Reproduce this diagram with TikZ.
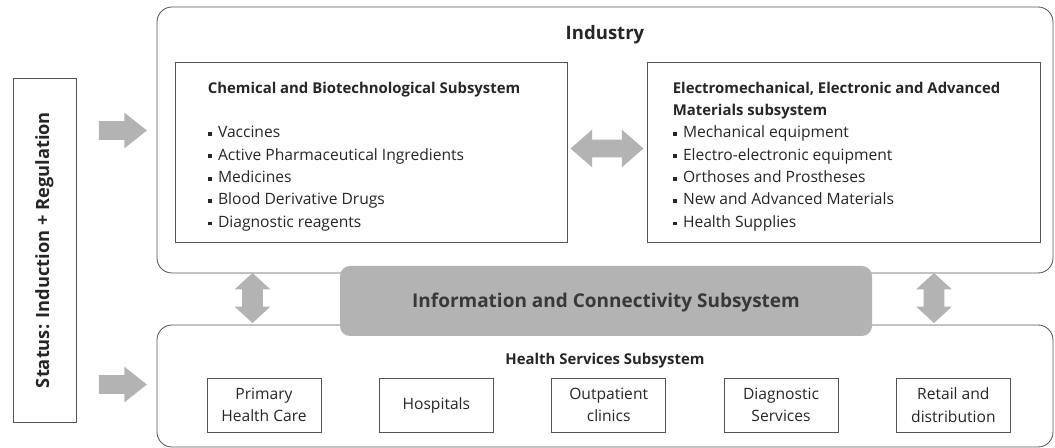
\documentclass[tikz,border=0pt]{standalone}
\usepackage{fontspec}
\setmainfont{Open Sans}
\usetikzlibrary{positioning,shapes.arrows,calc}

\definecolor{linegray}{HTML}{555555}
\definecolor{fillgray}{HTML}{B3B3B3}
\definecolor{textgray}{HTML}{262626}

% small square bullet
\newcommand{\itm}{\raisebox{0.22ex}{\rule{2.8pt}{2.8pt}}\hspace{0.4em}}

\begin{document}
\begin{tikzpicture}[
  every node/.style={text=textgray,font=\fontsize{11.1}{15.9}\selectfont},
  frame/.style={draw=linegray,line width=0.6pt,rounded corners=0.375cm},
  subbox/.style={draw=linegray,line width=0.6pt},
  svcbox/.style={draw=linegray,line width=0.6pt,minimum width=2.85cm,minimum height=1.35cm,align=center,inner sep=0pt},
  heading/.style={font=\bfseries\fontsize{13}{15}\selectfont},
  fatarrow/.style={single arrow,fill=fillgray,inner xsep=0pt,inner ysep=0.225cm,minimum height=1.2cm,
    single arrow head extend=0.2125cm,single arrow tip angle=77},
  linkarrow/.style={double arrow,fill=fillgray,inner xsep=0pt,inner ysep=0.2125cm,
    double arrow head extend=0.25cm,double arrow tip angle=82}
]
  \useasboundingbox (0,0) rectangle (26.375,11.2);
  \newcommand{\subtitle}[1]{{\bfseries\fontsize{10.6}{15.9}\selectfont #1}}

  % outer frames
  \node [frame,minimum width=22.4cm,minimum height=6.65cm] (ind) at (15.125,7.7) {};
  \node [frame,minimum width=22.4cm,minimum height=3.05cm] (health) at (15.125,1.55) {};
  \node [subbox,rotate=90,minimum width=8.6cm,minimum height=1.575cm,heading] (stat) at (1.1125,4.95)
    {Status: Induction + Regulation};

  \node [heading,font=\bfseries\fontsize{13.2}{15}\selectfont,anchor=base] (indlbl) at (15.125,10.2) {Industry};

  % industry subsystems
  \node [subbox,minimum width=9.8cm,minimum height=4.5cm] (chem) at (9.275,7.4) {};
  \node [subbox,minimum width=9.825cm,minimum height=4.5cm] (elec) at (21.0875,7.4) {};
  \node [anchor=north west,align=left,inner sep=0pt] (chemtxt) at ($(chem.north west)+(0.825,-0.5)$)
    {\subtitle{Chemical and Biotechnological Subsystem}\\[15.9pt]
     \itm Vaccines\\
     \itm Active Pharmaceutical Ingredients\\
     \itm Medicines\\
     \itm Blood Derivative Drugs\\
     \itm Diagnostic reagents};
  \node [anchor=north west,align=left,inner sep=0pt] (electxt) at ($(elec.north west)+(0.65,-0.5)$)
    {\subtitle{Electromechanical, Electronic and Advanced}\\
     \subtitle{Materials subsystem}\\
     \itm Mechanical equipment\\
     \itm Electro-electronic equipment\\
     \itm Orthoses and Prostheses\\
     \itm New and Advanced Materials\\
     \itm Health Supplies};
  \node [linkarrow,minimum height=1.825cm,yshift=0.0875cm] (chemelec)
    at ($(chem.east)!0.5!(elec.west)$) {};

  % health services
  \node [heading,font=\bfseries\fontsize{10.6}{13}\selectfont,anchor=base] (healthlbl) at (15.125,2.075)
    {Health Services Subsystem};
  \node [svcbox] (svc1) at (6.6,1.075) {Primary\\Health Care};
  \node [svcbox,right=1.4375cm of svc1] (svc2) {Hospitals};
  \node [svcbox,right=1.4375cm of svc2] (svc3) {Outpatient\\clinics};
  \node [svcbox,right=1.4375cm of svc3] (svc4) {Diagnostic\\Services};
  \node [svcbox,right=1.4375cm of svc4] (svc5) {Retail and\\distribution};

  % information layer sits on top of both frames
  \node [fill=fillgray,rounded corners=0.25cm,minimum width=13.3cm,minimum height=1.75cm] (info) at (15.15,3.675) {};
  \node [heading,font=\bfseries\fontsize{13.5}{16}\selectfont,text=black!78,anchor=base] (infolbl) at (15.15,3.5)
    {Information and Connectivity Subsystem};

  % arrows
  \node [fatarrow] (statind) at (2.925,7.9375) {};
  \node [fatarrow] (stathealth) at (2.925,1.5875) {};
  \node [linkarrow,rotate=90,minimum height=1.25cm,inner ysep=0.25cm,
    double arrow head extend=0.1875cm,double arrow tip angle=95] (indhealthL) at (6.3125,3.75) {};
  \node [linkarrow,rotate=90,minimum height=1.25cm,inner ysep=0.25cm,
    double arrow head extend=0.1875cm,double arrow tip angle=95] (indhealthR) at (23.35,3.75) {};
\end{tikzpicture}
\end{document}
